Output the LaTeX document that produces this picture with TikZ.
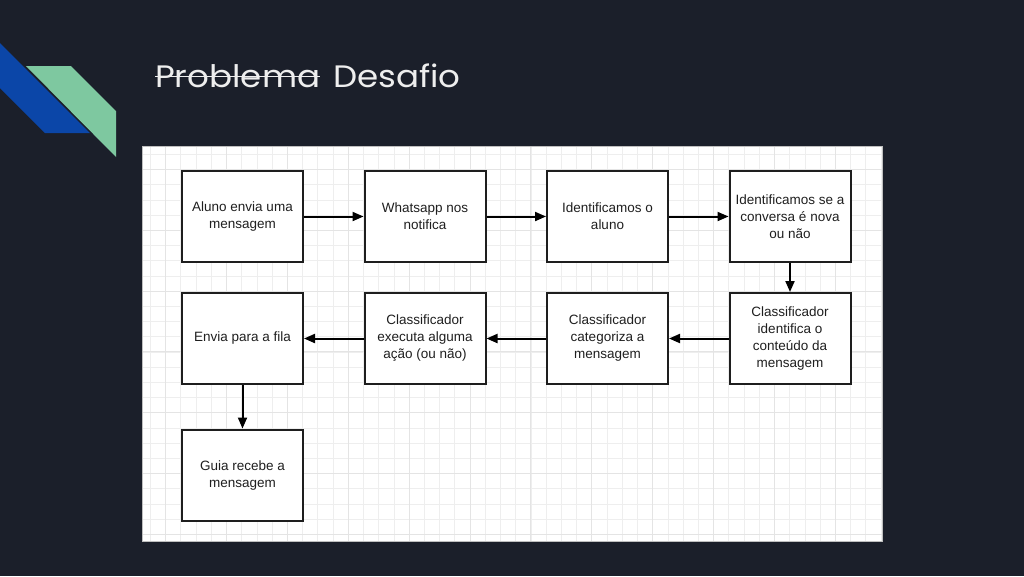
\documentclass[tikz,border=0pt]{standalone}
\usepackage{fontspec}
\setmainfont{Liberation Sans}
\newfontfamily\titlefont{Poppins}
\usetikzlibrary{arrows.meta}
\definecolor{bgdark}{HTML}{1B1F2A}
\definecolor{logoblue}{HTML}{0B46A8}
\definecolor{logogreen}{HTML}{7EC8A0}
\definecolor{gridminor}{HTML}{EEEEEE}
\definecolor{gridmajor}{HTML}{E4E4E4}
\definecolor{boxline}{HTML}{1E1E1E}
\definecolor{titlecol}{HTML}{EEEEEE}
\tikzset{
  flowbox/.style={draw=boxline, line width=2pt, fill=white, minimum width=121pt, minimum height=91pt, inner sep=0pt, align=center, font=\fontsize{13.5}{17}\selectfont, text=black!88, anchor=north west},
  flowarrow/.style={draw=black, line width=2pt, -{Triangle[length=11pt,width=9pt]}},
  titletext/.style={anchor=base west, inner sep=0pt, text=titlecol, font=\titlefont\fontsize{31}{36}\selectfont}
}
\begin{document}
\begin{tikzpicture}[x=1pt,y=-1pt]
\useasboundingbox (0,0) rectangle (1024,576);
\fill[bgdark] (0,0) rectangle (1024,576);
% logo
\fill[logoblue] (0,43) -- (90,133) -- (45,133) -- (0,88) -- cycle;
\fill[logogreen] (26,66) -- (71,66) -- (116,111) -- (116,157) -- cycle;
% title
\node[titletext] (prob) at (155,87) {\scalebox{1.1}[1]{Problema}};
\node[titletext] (desafio) at (333,87) {\scalebox{1.1}[1]{Desafio}};
\draw[titlecol, line width=1.6pt] ([yshift=-1pt]prob.west) -- ([yshift=-1pt]prob.east);
% board
\fill[white] (142,146) rectangle (882.5,541);
\begin{scope}
\clip (142,146) rectangle (882.5,541);
\foreach \i in {-34,...,15} {
  \draw[gridminor, line width=0.8pt] ({652.7+15.22*\i},146) -- ({652.7+15.22*\i},541);
}
\foreach \i in {-18,...,9} {
  \draw[gridminor, line width=0.8pt] (142,{412.7+15.2*\i}) -- (882.5,{412.7+15.2*\i});
}
\foreach \i in {-9,...,4} {
  \draw[gridmajor, line width=0.9pt] ({652.7+60.88*\i},146) -- ({652.7+60.88*\i},541);
}
\foreach \i in {-5,...,3} {
  \draw[gridmajor, line width=0.9pt] (142,{412.7+60.8*\i}) -- (882.5,{412.7+60.8*\i});
}
\end{scope}
\draw[gray!50, line width=0.6pt] (142,146) rectangle (882.5,541);
% boxes
\node[flowbox] (b1) at (181,170) {Aluno envia uma\\mensagem};
\node[flowbox] (b2) at (363.5,170) {Whatsapp nos\\notifica};
\node[flowbox] (b3) at (546,170) {Identificamos o\\aluno};
\node[flowbox] (b4) at (728.5,170) {Identificamos se a\\conversa é nova\\ou não};
\node[flowbox] (b5) at (728.5,292) {Classificador\\identifica o\\conteúdo da\\mensagem};
\node[flowbox] (b6) at (546,292) {Classificador\\categoriza a\\mensagem};
\node[flowbox] (b7) at (363.5,292) {Classificador\\executa alguma\\ação (ou não)};
\node[flowbox] (b8) at (181,292) {Envia para a fila};
\node[flowbox] (b9) at (181,428.5) {Guia recebe a\\mensagem};
% arrows
\draw[flowarrow] (b1.east) -- (b2.west);
\draw[flowarrow] (b2.east) -- (b3.west);
\draw[flowarrow] (b3.east) -- (b4.west);
\draw[flowarrow] (b4.south) -- (b5.north);
\draw[flowarrow] (b5.west) -- (b6.east);
\draw[flowarrow] (b6.west) -- (b7.east);
\draw[flowarrow] (b7.west) -- (b8.east);
\draw[flowarrow] (b8.south) -- (b9.north);
\end{tikzpicture}
\end{document}
